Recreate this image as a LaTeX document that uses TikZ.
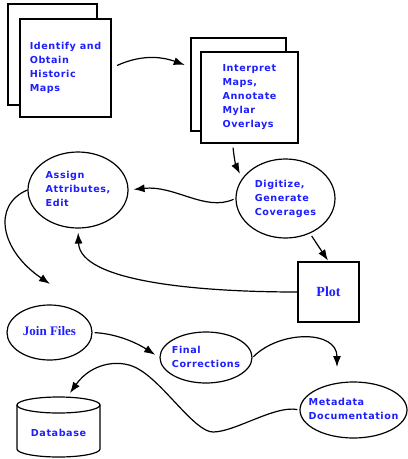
\documentclass[tikz,border=0pt]{standalone}
\usepackage{fontspec}
\usetikzlibrary{arrows.meta, shapes.geometric}
\newfontfamily\labelfont[LetterSpace=6]{DejaVu Sans}
\newfontfamily\titlefont{Liberation Serif}
\definecolor{labelblue}{HTML}{1E1EFF}
\newcommand\ovaltext[1]{\makebox[0pt]{\begin{tabular}{@{}l@{}}#1\end{tabular}}}

\begin{document}
\begin{tikzpicture}[x=1pt, y=-1pt, line width=1.2pt, >={Latex[length=11pt,width=8pt]},
    sheet/.style={draw, fill=white, inner sep=0pt},
    task/.style={sheet, align=left, text=labelblue, font=\labelfont\bfseries\fontsize{9.6}{14}\selectfont},
    oval/.style={task, ellipse},
    bigtext/.style={text=labelblue, font=\titlefont\bfseries\fontsize{#1}{#1}\selectfont},
    flow/.style={->}]
      \useasboundingbox (0,0) rectangle (408,459);

      % scanned sheets
      \node[sheet, minimum width=89pt, minimum height=101pt] (identback) at (52.5,54.5) {};
      \node[task, minimum width=91pt, minimum height=98pt] (ident) at (65.5,68) {Identify and\\Obtain\\Historic\\Maps};
      \node[sheet, minimum width=95pt, minimum height=93pt] (interpback) at (238.5,84.5) {};
      \node[task, minimum width=97pt, minimum height=91pt] (interp) at (249.5,97.5) {Interpret\\Maps,\\Annotate\\Mylar\\Overlays};

      % process steps
      \node[oval, minimum width=100pt, minimum height=76pt] (assign) at (78,190) {\ovaltext{Assign\\Attributes,\\Edit}};
      \node[oval, minimum width=99pt, minimum height=79pt] (dig) at (285.5,198.5) {\ovaltext{Digitize,\\Generate\\Coverages}};
      \node[sheet, bigtext=14, minimum width=61pt, minimum height=60pt] (plot) at (328.5,292) {Plot};
      \node[oval, bigtext=13, minimum width=85pt, minimum height=55pt] (join) at (49.5,332.5) {\ovaltext{Join Files}};
      \node[oval, minimum width=92pt, minimum height=51pt] (final) at (206,357.5) {\ovaltext{Final\\Corrections}};
      \node[oval, minimum width=107pt, minimum height=56pt] (meta) at (353.5,410) {\ovaltext{Metadata\\Documentation}};

      % database drum
      \draw (17,405) -- (17,449) arc[start angle=180, end angle=360, x radius=41.5pt, y radius=8pt] -- (100,405);
      \draw (58.5,405) ellipse [x radius=41.5pt, y radius=8pt];
      \node[task, draw=none, fill=none] (db) at (58.5,433) {Database};

      \coordinate (joinin) at (50,284);
      \coordinate (metain) at (337,367);
      \coordinate (dbin) at (70,393);

      % connectors
      \draw[flow, shorten <=6pt, shorten >=6pt] (ident.east) .. controls (140,55) and (160,56) .. (interpback.160);
      \draw[flow, shorten <=4pt, shorten >=5pt] (interp.250) .. controls (234,158) and (236,166) .. (dig.155);
      \draw[flow, shorten <=2pt, shorten >=5pt] (dig.west) .. controls (205,212) and (175,185) .. (assign.east);
      \draw[flow, shorten <=3pt, shorten >=1pt] (dig.305) -- (plot.north);
      \draw[flow, shorten >=4pt] (plot.west) .. controls (200,292) and (80,282) .. (assign.south);
      \draw[flow] (assign.west) .. controls (-8,205) and (0,250) .. (joinin);
      \draw[flow, shorten <=2pt, shorten >=5pt] (join.east) .. controls (120,334) and (140,345) .. (final.west);
      \draw[flow, shorten <=1pt] (final.east) .. controls (280,330) and (337,330) .. (metain);
      \draw[flow, shorten <=2pt] (meta.west) .. controls (275,405) and (235,432) .. (213,432)
        .. controls (195,432) and (165,385) .. (140,370)
        .. controls (122,358) and (92,362) .. (dbin);
\end{tikzpicture}
\end{document}
